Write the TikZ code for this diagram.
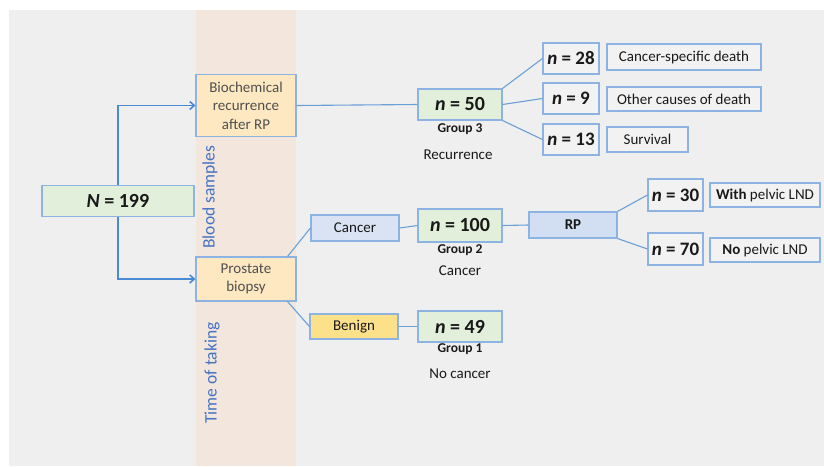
\documentclass[tikz,border=0pt]{standalone}
\usepackage{fontspec}
\setmainfont{Carlito}
\usetikzlibrary{arrows.meta}
\definecolor{bgray}{HTML}{EFEFEF}
\definecolor{band}{HTML}{F3E7DD}
\definecolor{bord}{HTML}{8DB3E2}
\definecolor{lnblue}{HTML}{6A9FD8}
\definecolor{arblue}{HTML}{4A8AD4}
\definecolor{gfill}{HTML}{E2EFDA}
\definecolor{ofill}{HTML}{FDE8C2}
\definecolor{cfill}{HTML}{DAE3F3}
\definecolor{rpfill}{HTML}{D2DEF2}
\definecolor{yfill}{HTML}{FDE08A}
\definecolor{wfill}{HTML}{F2F2F2}
\definecolor{txtb}{HTML}{4472C4}
\definecolor{dgray}{HTML}{505050}
\tikzset{
  box/.style={draw=bord, line width=1.1pt, inner sep=0pt, align=center, text=black!90},
  numbox/.style={box, fill=gfill, font=\fontsize{20}{22}\selectfont\bfseries},
  smallnum/.style={box, fill=wfill, font=\fontsize{19}{21}\selectfont\bfseries},
  outbox/.style={box, fill=wfill, font=\fontsize{15}{17}\selectfont},
  stagebox/.style={box, fill=ofill, text=dgray, font=\fontsize{15}{18.5}\selectfont},
  grp/.style={font=\fontsize{13.5}{15}\selectfont\bfseries, text=black!90},
  lbl/.style={font=\fontsize{15}{17}\selectfont, text=black!90},
  conn/.style={draw=lnblue, line width=1.1pt},
  arr/.style={draw=arblue, line width=1.8pt, -{Straight Barb[length=4.5pt,width=8pt,line width=1.6pt]}},
  vlab/.style={rotate=90, text=txtb, font=\fontsize{17.5}{19}\selectfont}
}
\begin{document}
\begin{tikzpicture}[x=1pt,y=-1pt]
\useasboundingbox (0,0) rectangle (824,466);
\fill[white] (0,0) rectangle (824,466);
\fill[bgray] (9,10) rectangle (824,466);
\fill[band] (196,10) rectangle (296,466);

\node[vlab] (blood) at (210,197) {Blood samples};
\node[vlab] (time) at (212,373) {Time of taking};

\node[numbox, minimum width=152pt, minimum height=31pt] (root) at (118,201) {\textit{N} = 199};
\node[stagebox, minimum width=100pt, minimum height=62pt] (bcr) at (246,105.5) {Biochemical\\recurrence\\after RP};
\node[stagebox, minimum width=100pt, minimum height=44pt] (bx) at (246,279) {Prostate\\biopsy};

\node[numbox, minimum width=84pt, minimum height=31pt] (n50) at (460,104.5) {\textit{n} = 50};
\node[grp] (g3) at (460,129) {Group 3};
\node[lbl] (rec) at (458,155) {Recurrence};

\node[smallnum, minimum width=56pt, minimum height=31pt] (n28) at (571,58.5) {\textit{n} = 28};
\node[smallnum, minimum width=56pt, minimum height=31pt] (n9) at (571,98.5) {\textit{n} = 9};
\node[smallnum, minimum width=56pt, minimum height=31pt] (n13) at (571,139.5) {\textit{n} = 13};
\node[outbox, minimum width=154pt, minimum height=26pt] (csd) at (684,57) {Cancer-specific death};
\node[outbox, minimum width=154pt, minimum height=24pt] (ocd) at (684,99) {Other causes of death};
\node[outbox, minimum width=81pt, minimum height=25pt] (surv) at (647.5,139.5) {Survival};

\node[box, fill=cfill, font=\fontsize{15}{17}\selectfont, minimum width=88pt, minimum height=26pt] (cancer) at (355,228) {Cancer};
\node[numbox, minimum width=84pt, minimum height=33pt] (n100) at (460,225.5) {\textit{n} = 100};
\node[grp] (g2) at (460,250) {Group 2};
\node[lbl] (canc) at (460,271) {Cancer};
\node[box, fill=rpfill, font=\fontsize{15}{17}\selectfont\bfseries, minimum width=88pt, minimum height=26pt] (rp) at (573,225) {RP};
\node[smallnum, minimum width=55pt, minimum height=32pt] (n30) at (675.5,195) {\textit{n} = 30};
\node[smallnum, minimum width=55pt, minimum height=32pt] (n70) at (675.5,249) {\textit{n} = 70};
\node[outbox, minimum width=110pt, minimum height=24pt] (wpl) at (765,195) {\textbf{With} pelvic LND};
\node[outbox, minimum width=110pt, minimum height=24pt] (npl) at (765,250) {\textbf{No} pelvic LND};

\node[box, fill=yfill, font=\fontsize{15}{17}\selectfont, minimum width=88pt, minimum height=25pt] (benign) at (354,326.5) {Benign};
\node[numbox, minimum width=84pt, minimum height=31pt] (n49) at (460,326.5) {\textit{n} = 49};
\node[grp] (g1) at (460,349) {Group 1};
\node[lbl] (nocanc) at (460,374) {No cancer};

\draw[arr] (root.north) |- (bcr.west);
\draw[arr] (root.south) |- (bx.west);
\draw[conn] (bcr.east) -- (n50.west);
\draw[conn] (n50.north east) -- (n28.west);
\draw[conn] (n50.east) -- (n9.west);
\draw[conn] (n50.south east) -- (n13.west);
\draw[conn] ([xshift=-9pt]bx.north east) -- (cancer.west);
\draw[conn] ([xshift=-9pt]bx.south east) -- (benign.west);
\draw[conn] (cancer.east) -- (n100.west);
\draw[conn] (n100.east) -- (rp.west);
\draw[conn] (rp.north east) -- (n30.west);
\draw[conn] (rp.south east) -- (n70.west);
\draw[conn] (benign.east) -- (n49.west);
\end{tikzpicture}
\end{document}
